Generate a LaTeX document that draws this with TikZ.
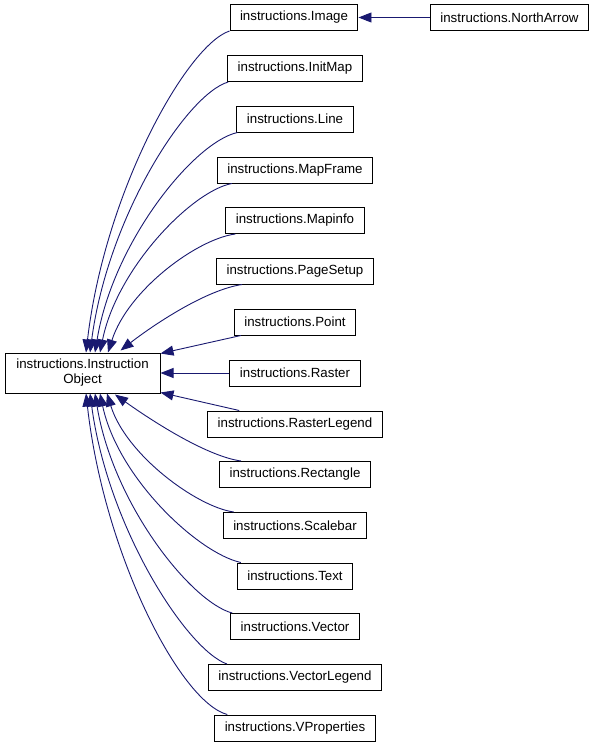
\documentclass[tikz,border=0pt]{standalone}
\usepackage{fontspec}
\setmainfont{Liberation Sans}
\usetikzlibrary{arrows.meta}
\definecolor{edgeblue}{HTML}{191970}
\begin{document}
\begin{tikzpicture}[x=1pt,y=-1pt,
  cls/.style={draw=black, line width=1pt, fill=white, minimum height=26pt, inner xsep=10pt, inner ysep=0pt,
    font=\fontsize{13.3}{15}\selectfont},
  inh/.style={draw=edgeblue, line width=0.9pt, -{Triangle[length=13pt,width=10pt,fill=edgeblue]}}]
\useasboundingbox (0,0) rectangle (595,747);
\node[cls, minimum width=155pt, minimum height=40pt, align=center] (main) at (82.5,373) {instructions.Instruction\\Object};
\node[cls] (img) at (294,17.5) {instructions.Image};
\node[cls] (na) at (509.5,17.5) {instructions.NorthArrow};
\node[cls] (init) at (295,68.5) {instructions.InitMap};
\node[cls] (line) at (295,119) {instructions.Line};
\node[cls] (mf) at (295,170) {instructions.MapFrame};
\node[cls] (mi) at (295,220.5) {instructions.Mapinfo};
\node[cls] (ps) at (295,271) {instructions.PageSetup};
\node[cls] (pt) at (295,322) {instructions.Point};
\node[cls] (ra) at (295,373) {instructions.Raster};
\node[cls] (rl) at (295,424) {instructions.RasterLegend};
\node[cls] (rect) at (295,474.5) {instructions.Rectangle};
\node[cls] (sb) at (295,525.5) {instructions.Scalebar};
\node[cls] (txt) at (295,576) {instructions.Text};
\node[cls] (vec) at (295,626.5) {instructions.Vector};
\node[cls] (vl) at (295,677.5) {instructions.VectorLegend};
\node[cls] (vp) at (295,728) {instructions.VProperties};

\draw[inh] (na.west) -- (img.east);

\draw[inh] (img.south west) .. controls (187,45) and (105,191) .. ([xshift=3.5pt]main.north);
\draw[inh] ([xshift=1pt]init.south west) .. controls (187,94) and (108,216) .. ([xshift=7.5pt]main.north);
\draw[inh] ([xshift=1pt]line.south west) .. controls (194,142) and (113,242) .. ([xshift=12.5pt]main.north);
\draw[inh] ([xshift=15pt]mf.south west) .. controls (192,191) and (117,268) .. ([xshift=17.5pt]main.north);
\draw[inh] ([xshift=10pt]mi.south west) .. controls (197,239) and (128,290) .. ([xshift=25.5pt]main.north);
\draw[inh] ([xshift=26pt]ps.south west) .. controls (205,290) and (152,326) .. ([xshift=38pt,yshift=2pt]main.north);
\draw[inh] ([xshift=7pt]pt.south west) -- ([yshift=-1pt]main.north east);
\draw[inh] (ra.west) -- (main.east);
\draw[inh] ([xshift=32pt]rl.north west) -- ([yshift=1pt]main.south east);
\draw[inh] ([xshift=22pt]rect.north west) .. controls (205,456) and (148,418) .. ([xshift=32.5pt,yshift=-1pt]main.south);
\draw[inh] ([xshift=11pt]sb.north west) .. controls (197,507) and (126,455) .. ([xshift=24.5pt]main.south);
\draw[inh] ([xshift=4pt]txt.north west) .. controls (198,553) and (118,478) .. ([xshift=17.5pt]main.south);
\draw[inh] ([xshift=2pt]vec.north west) .. controls (191,602) and (113,504) .. ([xshift=12.5pt]main.south);
\draw[inh] ([xshift=19pt]vl.north west) .. controls (187,650) and (108,528) .. ([xshift=7.5pt]main.south);
\draw[inh] ([xshift=13pt]vp.north west) .. controls (180,702) and (104,554) .. ([xshift=3.5pt]main.south);
\end{tikzpicture}
\end{document}
